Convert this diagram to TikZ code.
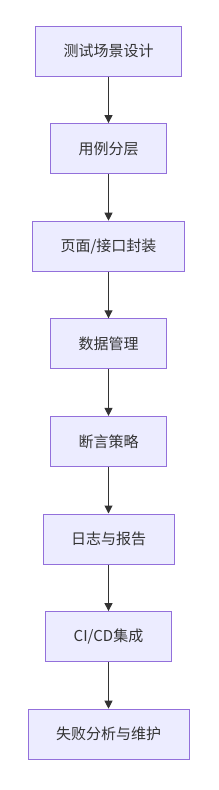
\documentclass[tikz,border=0pt]{standalone}
\usepackage{fontspec}
\newfontfamily\cjk{Noto Sans CJK SC}
\usepackage{tikz}
\usetikzlibrary{arrows.meta,positioning}
\definecolor{boxfill}{HTML}{ECECFF}
\definecolor{boxline}{HTML}{9370DB}
\definecolor{ink}{HTML}{333333}

\begin{document}
\begin{tikzpicture}[
    stage/.style={draw=boxline, fill=boxfill, line width=1pt, text=ink,
      font=\cjk\fontsize{15}{18}\selectfont, inner xsep=28pt,
      minimum height=50pt},
    flow/.style={draw=ink, line width=1pt, -{Triangle[length=8pt,width=8pt]}},
    node distance=46.6pt
  ]
    \useasboundingbox (0,0) rectangle (218pt,-790pt);

    \node[stage] (design) at (108.5pt,-51pt) {测试场景设计};
    \node[stage, below=of design] (layer) {用例分层};
    \node[stage, below=of layer] (wrap) {页面/接口封装};
    \node[stage, below=of wrap] (data) {数据管理};
    \node[stage, below=of data] (assert) {断言策略};
    \node[stage, below=of assert] (report) {日志与报告};
    \node[stage, below=of report] (cicd) {CI/CD集成};
    \node[stage, below=of cicd] (maint) {失败分析与维护};

    \draw[flow] (design) -- (layer);
    \draw[flow] (layer) -- (wrap);
    \draw[flow] (wrap) -- (data);
    \draw[flow] (data) -- (assert);
    \draw[flow] (assert) -- (report);
    \draw[flow] (report) -- (cicd);
    \draw[flow] (cicd) -- (maint);
  \end{tikzpicture}
\end{document}
